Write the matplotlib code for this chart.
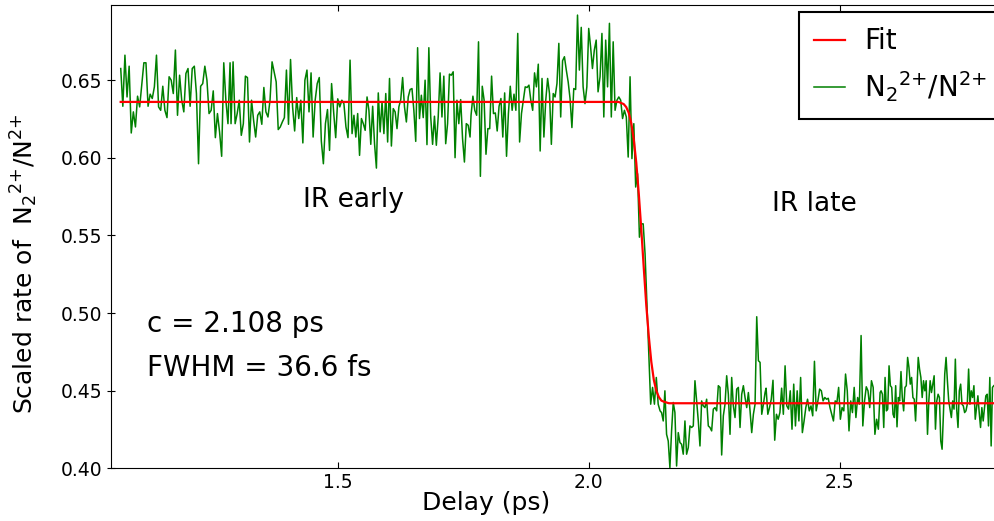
import numpy as np
import matplotlib
matplotlib.use('Agg')
import matplotlib.pyplot as plt

plt.rcParams['font.family'] = ['DejaVu Sans']
plt.rcParams['mathtext.default'] = 'regular'

# measured rate, read in pieces; each piece spans (start, end) delay in ps
seg_edges = [(1.0681, 1.2859), (1.2878, 1.5249), (1.5289, 1.7639), (1.7659, 2.0189),
             (2.0229, 2.1424), (2.1454, 2.3516), (2.3536, 2.5807), (2.5827, 2.8072)]

rate_a = [0.6575, 0.6332, 0.6661, 0.6392, 0.6590, 0.6160, 0.6296, 0.6199, 0.6397, 0.6328,
          0.6468, 0.6612, 0.6612, 0.6332, 0.6410, 0.6382, 0.6457, 0.6661, 0.6328, 0.6306,
          0.6461, 0.6306, 0.6259, 0.6522, 0.6500, 0.6414, 0.6694, 0.6274, 0.6532, 0.6371,
          0.6296, 0.6543, 0.6575, 0.6332, 0.6575, 0.6590, 0.6414, 0.5962, 0.6461, 0.6478,
          0.6590, 0.6500, 0.6285, 0.6306, 0.6431, 0.6130, 0.6285, 0.6167, 0.6010, 0.6612,
          0.6371, 0.6220, 0.6612]
rate_b = [0.6220, 0.6618, 0.6220, 0.6285, 0.6371, 0.6145, 0.6220, 0.6526, 0.6517, 0.6102,
          0.6371, 0.6242, 0.6134, 0.6274, 0.6296, 0.6216, 0.6453, 0.6296, 0.6263, 0.6371,
          0.6618, 0.6554, 0.6489, 0.6182, 0.6199, 0.6231, 0.6259, 0.6565, 0.6216, 0.6633,
          0.6328, 0.6173, 0.6388, 0.6253, 0.6371, 0.6096, 0.6500, 0.6565, 0.6296, 0.6547,
          0.6134, 0.6371, 0.6478, 0.6517, 0.6108, 0.5962, 0.6220, 0.6311, 0.6048, 0.6478,
          0.6296, 0.6130, 0.6380, 0.6328, 0.6371, 0.6349, 0.6199, 0.6130, 0.6629]
rate_c = [0.6156, 0.6274, 0.6134, 0.6285, 0.6016, 0.6253, 0.6220, 0.6177, 0.6392, 0.6306,
          0.6087, 0.6332, 0.6091, 0.5934, 0.6418, 0.6167, 0.6360, 0.6156, 0.6414, 0.6102,
          0.6511, 0.6076, 0.6317, 0.6296, 0.6188, 0.6328, 0.6375, 0.6517, 0.6328, 0.6231,
          0.6392, 0.6440, 0.6446, 0.6306, 0.6106, 0.6709, 0.6253, 0.6403, 0.6259, 0.6500,
          0.6085, 0.6709, 0.6263, 0.6087, 0.6268, 0.6081, 0.6263, 0.6547, 0.6263, 0.6526,
          0.6091, 0.6220, 0.6539, 0.6532, 0.6554, 0.6001, 0.6371, 0.6220, 0.6375, 0.6124,
          0.5973, 0.6220, 0.6210, 0.6134]
rate_d = [0.6274, 0.6397, 0.6306, 0.6274, 0.6747, 0.5881, 0.6461, 0.6371, 0.6023, 0.6188,
          0.6188, 0.6526, 0.6285, 0.6289, 0.6173, 0.6332, 0.6382, 0.6134, 0.6418, 0.6010,
          0.6285, 0.6461, 0.6306, 0.6410, 0.6306, 0.6801, 0.6102, 0.6285, 0.6371, 0.6457,
          0.6453, 0.6468, 0.6371, 0.6306, 0.6547, 0.6457, 0.6603, 0.6044, 0.6511, 0.6134,
          0.6371, 0.6511, 0.6414, 0.6087, 0.6414, 0.6392, 0.6478, 0.6737, 0.6263, 0.6625,
          0.6651, 0.6565, 0.6489, 0.6382, 0.6195, 0.6446, 0.6440, 0.6919, 0.6565, 0.6840,
          0.6457, 0.6349, 0.6457, 0.6833, 0.6715, 0.6575, 0.6694, 0.6758, 0.6425]
rate_e = [0.6522, 0.6801, 0.6263, 0.6758, 0.6457, 0.6866, 0.6263, 0.6747, 0.6306, 0.6371,
          0.6392, 0.6371, 0.6253, 0.6306, 0.6263, 0.6005, 0.6522, 0.5995, 0.6220, 0.5812,
          0.5898, 0.5489, 0.5575, 0.5575, 0.5382, 0.5059, 0.4737, 0.4414, 0.4522, 0.4414,
          0.4586, 0.4414, 0.4371]
rate_f = [0.4360, 0.4306, 0.4500, 0.4220, 0.4177, 0.4005, 0.4242, 0.4425, 0.4360, 0.4016,
          0.4231, 0.4167, 0.4156, 0.4092, 0.4306, 0.4092, 0.4134, 0.4274, 0.4264, 0.4274,
          0.4565, 0.4435, 0.4306, 0.4145, 0.4435, 0.4403, 0.4392, 0.4446, 0.4274, 0.4264,
          0.4242, 0.4382, 0.4392, 0.4371, 0.4533, 0.4522, 0.4087, 0.4339, 0.4414, 0.4597,
          0.4478, 0.4220, 0.4586, 0.4403, 0.4328, 0.4511, 0.4522, 0.4264, 0.4478, 0.4533,
          0.4457, 0.4392, 0.4489, 0.4371, 0.4231, 0.4349, 0.4414, 0.4977, 0.4694, 0.4683,
          0.4349, 0.4414, 0.4489]
rate_g = [0.4517, 0.4349, 0.4392, 0.4446, 0.4568, 0.4182, 0.4349, 0.4317, 0.4360, 0.4517,
          0.4349, 0.4661, 0.4403, 0.4382, 0.4500, 0.4253, 0.4543, 0.4274, 0.4500, 0.4306,
          0.4586, 0.4231, 0.4306, 0.4392, 0.4446, 0.4371, 0.4403, 0.4339, 0.4690, 0.4371,
          0.4435, 0.4511, 0.4500, 0.4435, 0.4457, 0.4446, 0.4452, 0.4392, 0.4349, 0.4306,
          0.4435, 0.4425, 0.4522, 0.4317, 0.4392, 0.4371, 0.4608, 0.4500, 0.4242, 0.4435,
          0.4360, 0.4522, 0.4328, 0.4457, 0.4414, 0.4856, 0.4274, 0.4435, 0.4526, 0.4500,
          0.4392, 0.4565, 0.4522, 0.4220, 0.4317, 0.4253, 0.4489]
rate_h = [0.4500, 0.4478, 0.4264, 0.4586, 0.4371, 0.4382, 0.4661, 0.4533, 0.4522, 0.4349,
          0.4328, 0.4533, 0.4268, 0.4457, 0.4435, 0.4624, 0.4457, 0.4371, 0.4522, 0.4533,
          0.4715, 0.4651, 0.4543, 0.4586, 0.4457, 0.4446, 0.4306, 0.4500, 0.4715, 0.4640,
          0.4586, 0.4457, 0.4565, 0.4500, 0.4565, 0.4220, 0.4435, 0.4565, 0.4489, 0.4543,
          0.4597, 0.4253, 0.4435, 0.4478, 0.4457, 0.4177, 0.4124, 0.4349, 0.4608, 0.4715,
          0.4565, 0.4435, 0.4382, 0.4328, 0.4435, 0.4382, 0.4704, 0.4382, 0.4264, 0.4500,
          0.4543, 0.4414, 0.4403, 0.4360, 0.4371, 0.4414, 0.4640, 0.4414, 0.4500, 0.4457,
          0.4533, 0.4317, 0.4392, 0.4468, 0.4360, 0.4264, 0.4392, 0.4306, 0.4392, 0.4468,
          0.4478, 0.4274, 0.4586, 0.4145, 0.4522, 0.4533]

# fit curve
fit_delay = [1.068, 2.06, 2.07, 2.075, 2.08, 2.085, 2.09, 2.095, 2.10, 2.105, 2.11, 2.115,
             2.12, 2.125, 2.13, 2.135, 2.14, 2.145, 2.15, 2.16, 2.81]
fit_rate = [0.636, 0.636, 0.6346, 0.6327, 0.629, 0.6225, 0.612, 0.5969, 0.577, 0.554, 0.529,
            0.505, 0.485, 0.4686, 0.457, 0.450, 0.446, 0.4437, 0.443, 0.442, 0.442]

segments = [rate_a, rate_b, rate_c, rate_d, rate_e, rate_f, rate_g, rate_h]
delay = np.concatenate([np.linspace(a, b, len(s)) for (a, b), s in zip(seg_edges, segments)])
rate = np.concatenate(segments)

ion = r'${N_2}^{2{+}}/N^{2{+}}$'

fig = plt.figure(figsize=(9.95, 5.21), dpi=100)
ax = fig.add_axes([0.1116, 0.1008, 0.8935, 0.8896])

ax.plot(fit_delay, fit_rate, color='red', lw=1.6, label='Fit', zorder=3)
ax.plot(delay, rate, color='green', lw=1.1, label=ion, zorder=2)

ax.set_xlim(1.0488, 2.8197)
ax.set_ylim(0.40, 0.6984)
ax.set_xticks([1.5, 2.0, 2.5])
ax.set_yticks([0.40, 0.45, 0.50, 0.55, 0.60, 0.65])
ax.tick_params(axis='x', direction='in', top=True, length=4, labelsize=13.5)
ax.tick_params(axis='y', direction='inout', length=6, labelsize=13.5)

ax.set_xlabel('Delay (ps)', fontsize=18)
ax.xaxis.set_label_coords(0.422, -0.048, transform=ax.transAxes)
ax.xaxis.label.set_va('top')
ax.set_ylabel('Scaled rate of  ' + ion, fontsize=18)
ax.yaxis.set_label_coords(-0.080, 0.443, transform=ax.transAxes)

ax.text(1.531, 0.5726, 'IR early', fontsize=19, ha='center', va='center')
ax.text(2.449, 0.5706, 'IR late', fontsize=19, ha='center', va='center')
ax.text(1.1205, 0.4932, 'c = 2.108 ps', fontsize=20, ha='left', va='center')
ax.text(1.1205, 0.4648, 'FWHM = 36.6 fs', fontsize=20, ha='left', va='center')

leg = ax.legend(loc='upper left', bbox_to_anchor=(0.774, 0.985), borderaxespad=0,
                fontsize=20, fancybox=False, framealpha=1, edgecolor='black',
                handlelength=1.1, handletextpad=0.7, borderpad=0.55)
leg.get_frame().set_linewidth(1.5)

fig.savefig('out.png', dpi=100)
